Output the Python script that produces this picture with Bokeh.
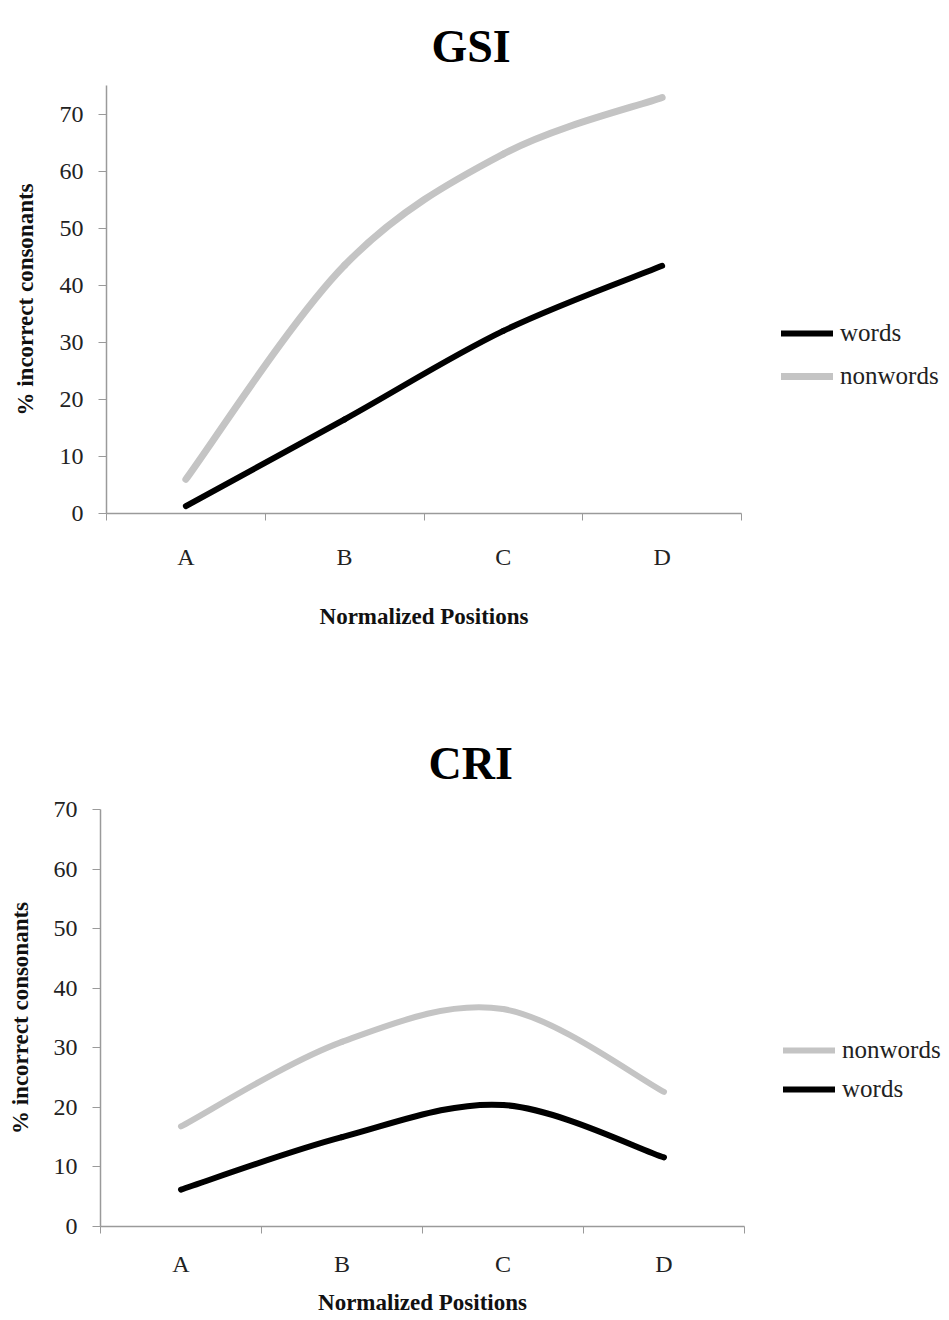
from bokeh.plotting import figure
from bokeh.models import Range1d, FixedTicker, Legend, LegendItem, ColumnDataSource
from bokeh.embed import file_html
from bokeh.resources import INLINE

# ---------------- data ----------------
categories = ["A", "B", "C", "D"]
y_ticks_gsi = [0, 10, 20, 30, 40, 50, 60, 70]
y_ticks_cri = [0, 10, 20, 30, 40, 50, 60, 70]

gsi_words = [1.3, 16.5, 32.0, 43.4]
gsi_nonwords = [6.0, 43.5, 63.0, 72.9]

cri_nonwords = [16.8, 31.0, 36.5, 22.6]
cri_words = [6.2, 15.0, 20.4, 11.6]

FONT = "Liberation Serif"
GRAY = "#c4c4c4"
BLACK = "#000000"
AXIS_COLOR = "#9a9a9a"


def smooth_source(xs, ys):
    """Excel-style smoothed line: cubic Bezier segments through the data
    points with Catmull-Rom control points derived from the data."""
    n = len(xs)
    d = dict(x0=[], y0=[], x1=[], y1=[], cx0=[], cy0=[], cx1=[], cy1=[])
    for i in range(n - 1):
        i0 = max(i - 1, 0)
        i3 = min(i + 2, n - 1)
        d["x0"].append(xs[i]); d["y0"].append(ys[i])
        d["x1"].append(xs[i + 1]); d["y1"].append(ys[i + 1])
        d["cx0"].append(xs[i] + (xs[i + 1] - xs[i0]) / 6.0)
        d["cy0"].append(ys[i] + (ys[i + 1] - ys[i0]) / 6.0)
        d["cx1"].append(xs[i + 1] - (xs[i3] - xs[i]) / 6.0)
        d["cy1"].append(ys[i + 1] - (ys[i3] - ys[i]) / 6.0)
    return ColumnDataSource(d)


def make_panel(title, series, y_max, y_ticks, frame_w, frame_h, borders, title_offset,
               title_standoff, legend_loc, legend_spacing, xl_standoff,
               xa_standoff, ya_standoff):
    bl, br, bt, bb = borders
    p = figure(frame_width=frame_w, frame_height=frame_h, output_backend="svg",
               toolbar_location=None,
               x_range=Range1d(0, len(categories)), y_range=Range1d(0, y_max),
               min_border_left=bl, min_border_right=br, min_border_top=bt,
               min_border_bottom=bb)
    p.outline_line_color = None
    p.xgrid.visible = False
    p.ygrid.visible = False
    p.background_fill_color = "white"
    p.border_fill_color = "white"

    p.title.text = title
    p.title.text_font = FONT
    p.title.text_font_size = "46px"
    p.title.text_font_style = "bold"
    p.title.text_color = "#000000"
    p.title.align = "left"
    p.title.offset = title_offset
    p.title.standoff = title_standoff

    xs = [i + 0.5 for i in range(len(categories))]

    # x axis
    xa = p.xaxis[0]
    xa.ticker = FixedTicker(ticks=xs, minor_ticks=list(range(len(categories) + 1)))
    xa.major_label_overrides = {x: c for x, c in zip(xs, categories)}
    xa.major_tick_out = 0
    xa.major_tick_in = 0
    xa.minor_tick_out = 7
    xa.minor_tick_in = 0
    xa.minor_tick_line_color = AXIS_COLOR
    xa.axis_line_color = AXIS_COLOR
    xa.axis_line_width = 1.5
    xa.major_label_text_font = FONT
    xa.major_label_text_font_size = "24px"
    xa.major_label_text_color = "#222222"
    xa.major_label_standoff = xl_standoff
    xa.axis_label = "Normalized Positions"
    xa.axis_label_text_font = FONT
    xa.axis_label_text_font_size = "23px"
    xa.axis_label_text_font_style = "bold"
    xa.axis_label_text_color = "#111111"
    xa.axis_label_standoff = xa_standoff

    # y axis
    ya = p.yaxis[0]
    ya.ticker = FixedTicker(ticks=y_ticks)
    ya.minor_tick_out = 0
    ya.minor_tick_in = 0
    ya.major_tick_out = 8
    ya.major_tick_in = 0
    ya.major_tick_line_color = AXIS_COLOR
    ya.axis_line_color = AXIS_COLOR
    ya.axis_line_width = 1.5
    ya.major_label_text_font = FONT
    ya.major_label_text_font_size = "24px"
    ya.major_label_text_color = "#222222"
    ya.major_label_standoff = 15
    ya.axis_label = "% incorrect consonants"
    ya.axis_label_text_font = FONT
    ya.axis_label_text_font_size = "23px"
    ya.axis_label_text_font_style = "bold"
    ya.axis_label_text_color = "#111111"
    ya.axis_label_standoff = ya_standoff

    items = []
    for name, vals, color, width in series:
        src = smooth_source(xs, vals)
        r = p.bezier(x0="x0", y0="y0", x1="x1", y1="y1", cx0="cx0", cy0="cy0",
                     cx1="cx1", cy1="cy1", source=src, line_color=color,
                     line_width=width, line_cap="round")
        items.append(LegendItem(label=name, renderers=[r]))

    legend = Legend(items=items, location=legend_loc, glyph_width=52, glyph_height=30,
                    label_height=30, label_standoff=7, spacing=legend_spacing,
                    padding=0, margin=0, border_line_color=None,
                    background_fill_alpha=0, label_text_font=FONT,
                    label_text_font_size="25px", label_text_color="#222222")
    p.add_layout(legend, "right")
    return p


top = make_panel(
    "GSI",
    [("words", gsi_words, BLACK, 6), ("nonwords", gsi_nonwords, GRAY, 7)],
    75, y_ticks_gsi, 635, 428, (106, 0, 85, 135), 325, 28,
    (40, 122), 13, 23, 31, 19)

bottom = make_panel(
    "CRI",
    [("nonwords", cri_nonwords, GRAY, 6), ("words", cri_words, BLACK, 6)],
    70, y_ticks_cri, 644, 417, (100, 0, 161, 92), 328, 42,
    (39, 122), 9, 17, 10, 18)

open("out.html", "w").write(file_html([top, bottom], INLINE))
